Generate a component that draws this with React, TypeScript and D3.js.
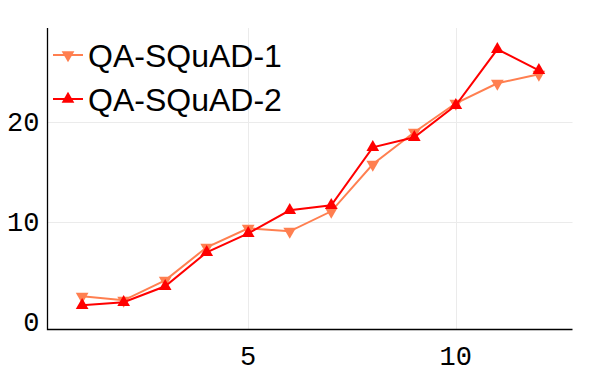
import React, { useEffect, useRef } from "react";
import * as d3 from "d3";

// valores
const xs = [1, 2, 3, 4, 5, 6, 7, 8, 9, 10, 11, 12];
const squad1 = [2.6, 2.2, 4.2, 7.5, 9.4, 9.1, 11.1, 15.8, 19.0, 21.9, 23.9, 24.8];
const squad2 = [1.7, 2.0, 3.6, 7.0, 8.9, 11.2, 11.7, 17.5, 18.5, 21.7, 27.3, 25.2];
const seriesNames = ["QA-SQuAD-1", "QA-SQuAD-2"];
const seriesColors = ["#ff7f50", "#ff0000"];
const xTicks = [5, 10];
const yTicks = [0, 10, 20];

const W = 594;
const H = 376;

const App = () => {
  const ref = useRef<SVGSVGElement | null>(null);

  useEffect(() => {
    const svg = d3.select(ref.current);
    svg.selectAll("*").remove();

    const left = 47.5;
    const right = 572.5;
    const top = 28;
    const bottom = 329.5;

    const x = d3.scaleLinear().domain([0.166, 12.81]).range([left, right]);
    const y = d3.scaleLinear().domain([-0.72, 29.43]).range([bottom, top]);

    // grilla
    const grid = svg.append("g").attr("stroke", "#ebebeb").attr("stroke-width", 1);
    yTicks
      .filter((t) => t > 0)
      .forEach((t) => {
        grid
          .append("line")
          .attr("x1", left)
          .attr("x2", right)
          .attr("y1", Math.round(y(t)) + 0.5)
          .attr("y2", Math.round(y(t)) + 0.5);
      });
    xTicks.forEach((t) => {
      grid
        .append("line")
        .attr("x1", Math.round(x(t)) + 0.5)
        .attr("x2", Math.round(x(t)) + 0.5)
        .attr("y1", top)
        .attr("y2", bottom);
    });

    // ejes
    svg
      .append("path")
      .attr("d", `M${left},${top}V${bottom}H${right}`)
      .attr("fill", "none")
      .attr("stroke", "#000")
      .attr("stroke-width", 1.3);

    const tickFont = "'Liberation Mono', monospace";
    svg
      .selectAll("text.ytick")
      .data(yTicks)
      .enter()
      .append("text")
      .attr("class", "ytick")
      .attr("x", left - 8)
      .attr("y", (d) => y(d))
      .attr("dy", "0.34em")
      .attr("text-anchor", "end")
      .attr("font-family", tickFont)
      .attr("font-size", 27)
      .text((d) => d);
    svg
      .selectAll("text.xtick")
      .data(xTicks)
      .enter()
      .append("text")
      .attr("class", "xtick")
      .attr("x", (d) => x(d))
      .attr("y", 365)
      .attr("text-anchor", "middle")
      .attr("font-family", tickFont)
      .attr("font-size", 27)
      .text((d) => d);

    const data = [squad1, squad2];
    const line = d3
      .line<number>()
      .x((_, i) => x(xs[i]))
      .y((d) => y(d));
    const tri = d3.symbol().type(d3.symbolTriangle).size(70);

    data.forEach((vals, s) => {
      const g = svg.append("g");
      g.append("path")
        .attr("d", line(vals))
        .attr("fill", "none")
        .attr("stroke", seriesColors[s])
        .attr("stroke-width", 2);
      g.selectAll("path.m")
        .data(vals)
        .enter()
        .append("path")
        .attr("class", "m")
        .attr("d", tri())
        .attr(
          "transform",
          (d, i) => `translate(${x(xs[i])},${y(d)})` + (s === 0 ? " rotate(180)" : "")
        )
        .attr("fill", seriesColors[s]);
    });

    // leyenda
    const leg = svg.append("g");
    seriesNames.forEach((name, s) => {
      const ly = 55 + s * 44;
      leg
        .append("line")
        .attr("x1", 53)
        .attr("x2", 83)
        .attr("y1", ly)
        .attr("y2", ly)
        .attr("stroke", seriesColors[s])
        .attr("stroke-width", 2);
      leg
        .append("path")
        .attr("d", tri())
        .attr("transform", `translate(68,${ly})` + (s === 0 ? " rotate(180)" : ""))
        .attr("fill", seriesColors[s]);
      leg
        .append("text")
        .attr("x", 88)
        .attr("y", ly + 12)
        .attr("font-family", "'Liberation Sans', Arial, sans-serif")
        .attr("font-size", 32)
        .text(name);
    });
  }, []);

  return (
    <svg
      ref={ref}
      width={W}
      height={H}
      style={{ position: "absolute", left: 0, top: 0, background: "#fff" }}
    />
  );
};

export default App;
